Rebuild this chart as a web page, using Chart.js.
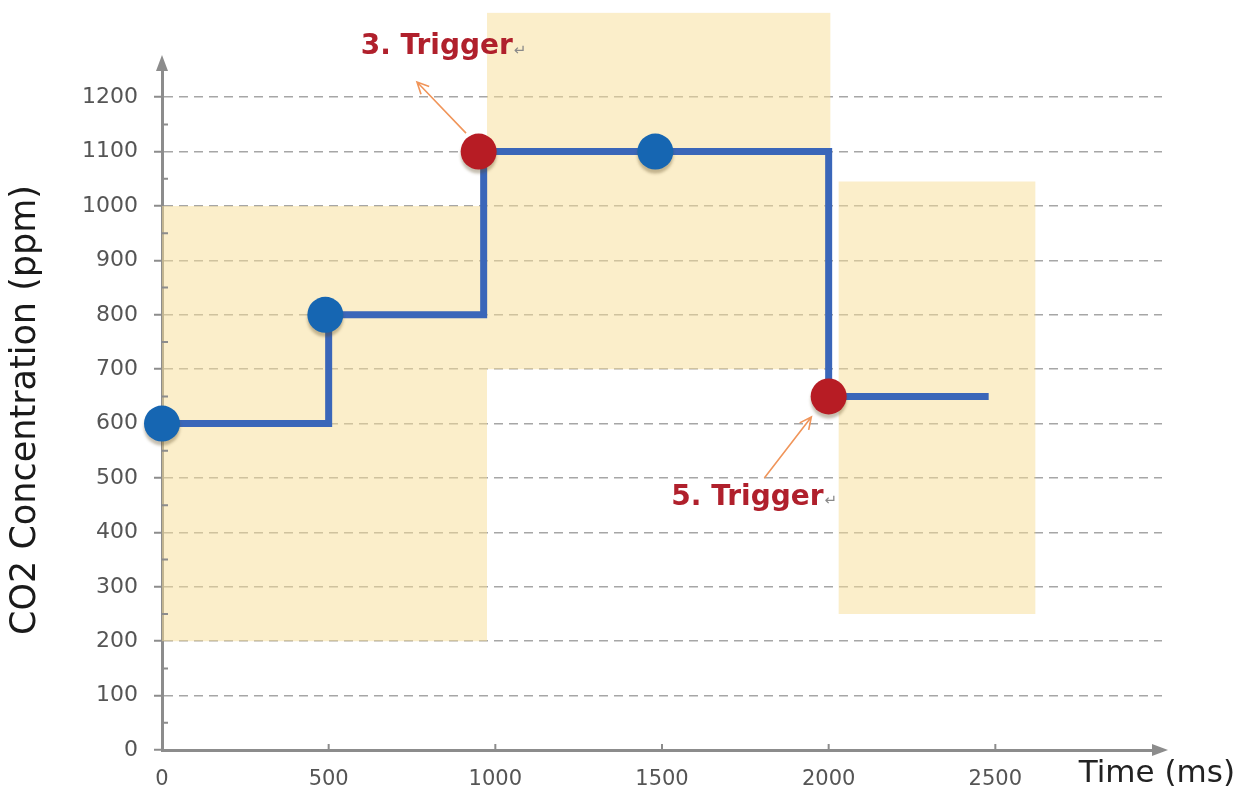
<!DOCTYPE html>
<html><head><meta charset="utf-8">
<script src="https://cdn.jsdelivr.net/npm/chart.js@4.4.1/dist/chart.umd.min.js"></script>
<style>html,body{margin:0;padding:0;background:#fff;overflow:hidden}#wrap{width:1236px;height:791px}</style>
</head><body><div id="wrap"><canvas id="c" width="1236" height="791"></canvas></div>
<script>
// ---- data (ms / ppm) ----
const stepTimes = [0, 500, 965, 2000, 2480];
const stepCO2   = [600, 800, 1100, 650, 650];
const blueTimes = [0, 490, 1480];
const blueCO2   = [600, 800, 1100];
const redTimes  = [950, 2000];
const redCO2    = [1100, 650];
const xTickValues = [0, 500, 1000, 1500, 2000, 2500];
const yTickValues = [0, 100, 200, 300, 400, 500, 600, 700, 800, 900, 1000, 1100, 1200];
const yMinorTicks = [50, 150, 250, 350, 450, 550, 650, 750, 850, 950, 1050, 1150];
// shaded zones
const zoneStart = [0, 975, 2030];
const zoneEnd   = [975, 2005, 2620];
const zoneLow   = [200, 700, 250];
const zoneHigh  = [1000, 1355, 1045];
// trigger annotations
const triggerText = ['3. Trigger', '5. Trigger'];
const triggerTime = [596, 1528];
const triggerCO2  = [1292, 464];
const arrowFromTime = [912, 1807];
const arrowFromCO2  = [1134, 500];
const arrowToTime   = [765, 1948];
const arrowToCO2    = [1228, 612];

const AXIS = '#8c8c8c';

const decor = {
  id: 'decor',
  beforeDatasetsDraw(chart) {
    const {ctx, scales: {x, y}} = chart;
    ctx.save();
    ctx.fillStyle = 'rgba(247,222,150,0.5)';
    for (let i = 0; i < zoneStart.length; i++) {
      const l = x.getPixelForValue(zoneStart[i]), r = x.getPixelForValue(zoneEnd[i]);
      const t = y.getPixelForValue(zoneHigh[i]), b = y.getPixelForValue(zoneLow[i]);
      ctx.fillRect(l, t, r - l, b - t);
    }
    ctx.restore();
  },
  beforeDatasetDraw(chart, args) {
    if (args.index < 2) {
      chart.ctx.save();
      chart.ctx.shadowColor = 'rgba(90,70,30,0.35)';
      chart.ctx.shadowOffsetY = 4;
      chart.ctx.shadowBlur = 3;
    }
  },
  afterDatasetDraw(chart, args) {
    if (args.index < 2) chart.ctx.restore();
  },
  afterDraw(chart) {
    const {ctx, chartArea: ca, scales: {x, y}} = chart;
    ctx.save();
    // arrowheads on axes
    ctx.fillStyle = AXIS;
    ctx.beginPath();
    ctx.moveTo(ca.left, ca.top - 15);
    ctx.lineTo(ca.left - 6, ca.top + 1);
    ctx.lineTo(ca.left + 6, ca.top + 1);
    ctx.closePath(); ctx.fill();
    ctx.beginPath();
    ctx.moveTo(ca.right + 6, ca.bottom);
    ctx.lineTo(ca.right - 10, ca.bottom - 6);
    ctx.lineTo(ca.right - 10, ca.bottom + 6);
    ctx.closePath(); ctx.fill();
    // minor ticks
    ctx.strokeStyle = AXIS; ctx.lineWidth = 2;
    ctx.beginPath();
    yMinorTicks.forEach(v => { const py = y.getPixelForValue(v); ctx.moveTo(ca.left, py); ctx.lineTo(ca.left + 6, py); });
    xTickValues.forEach(v => { if (v === 0) return; const px = x.getPixelForValue(v); ctx.moveTo(px, ca.bottom); ctx.lineTo(px, ca.bottom - 6); });
    ctx.stroke();
    // trigger arrows
    ctx.strokeStyle = '#F0955A'; ctx.lineWidth = 1.6;
    for (let i = 0; i < triggerText.length; i++) {
      const x1 = x.getPixelForValue(arrowFromTime[i]), y1 = y.getPixelForValue(arrowFromCO2[i]);
      const x2 = x.getPixelForValue(arrowToTime[i]), y2 = y.getPixelForValue(arrowToCO2[i]);
      const a = Math.atan2(y2 - y1, x2 - x1);
      ctx.beginPath();
      ctx.moveTo(x1, y1); ctx.lineTo(x2, y2);
      ctx.moveTo(x2 - 13 * Math.cos(a - 0.45), y2 - 13 * Math.sin(a - 0.45));
      ctx.lineTo(x2, y2);
      ctx.lineTo(x2 - 13 * Math.cos(a + 0.45), y2 - 13 * Math.sin(a + 0.45));
      ctx.stroke();
    }
    // trigger labels
    for (let i = 0; i < triggerText.length; i++) {
      const px = x.getPixelForValue(triggerTime[i]), py = y.getPixelForValue(triggerCO2[i]);
      ctx.font = 'bold 28px "DejaVu Sans"';
      ctx.fillStyle = '#B0202C';
      ctx.textAlign = 'left'; ctx.textBaseline = 'middle';
      ctx.fillText(triggerText[i], px, py);
      const w = ctx.measureText(triggerText[i]).width;
      ctx.font = '15px "DejaVu Sans"';
      ctx.fillStyle = '#8a8a8a';
      ctx.fillText('\u21B5', px + w + 1, py + 4);
    }
    // x axis title
    ctx.font = '31px "DejaVu Sans"';
    ctx.fillStyle = '#222';
    ctx.textAlign = 'right'; ctx.textBaseline = 'alphabetic';
    ctx.fillText('Time (ms)', chart.width - 1, 782);
    ctx.restore();
  }
};

new Chart(document.getElementById('c'), {
  type: 'line',
  data: {
    datasets: [
      { label: 'Measured', data: blueTimes.map((t, i) => ({x: t, y: blueCO2[i]})), showLine: false, clip: false,
        pointRadius: 18, pointHoverRadius: 18, pointBackgroundColor: '#1666B2', pointBorderWidth: 0, order: 1 },
      { label: 'Trigger', data: redTimes.map((t, i) => ({x: t, y: redCO2[i]})), showLine: false, clip: false,
        pointRadius: 18, pointHoverRadius: 18, pointBackgroundColor: '#B71C24', pointBorderWidth: 0, order: 1 },
      { label: 'CO2', data: stepTimes.map((t, i) => ({x: t, y: stepCO2[i]})), stepped: true, clip: false,
        borderColor: '#3A66B9', borderWidth: 7, pointRadius: 0, fill: false, order: 3,
        borderJoinStyle: 'miter', borderCapStyle: 'butt' }
    ]
  },
  options: {
    responsive: false, animation: false, devicePixelRatio: 1,
    layout: { padding: { top: 70, right: 74, bottom: 0, left: 0 } },
    plugins: { legend: { display: false }, tooltip: { enabled: false } },
    scales: {
      x: {
        type: 'linear', min: 0, max: 3000,
        afterBuildTicks: s => { s.ticks = xTickValues.map(v => ({value: v})); },
        afterFit: s => { s.height = 41; },
        grid: { drawOnChartArea: false, drawTicks: false },
        border: { color: AXIS, width: 3 },
        ticks: { padding: 17, font: { family: 'DejaVu Sans', size: 21 }, color: '#555',
                 callback: v => String(v) }
      },
      y: {
        type: 'linear', min: 0, max: 1250,
        afterBuildTicks: s => { s.ticks = yTickValues.map(v => ({value: v})); },
        afterFit: s => { s.width = 162; },
        grid: {
          color: c => (c.tick && c.tick.value === 0) ? 'rgba(0,0,0,0)' : '#a6a6a6',
          lineWidth: 1.5, tickLength: 8, tickColor: AXIS, tickWidth: 2, tickBorderDash: []
        },
        border: { color: AXIS, width: 3, dash: [9, 6] },
        ticks: { padding: 16, font: { family: 'DejaVu Sans', size: 22 }, color: '#555',
                 callback: v => String(v) },
        title: { display: true, text: 'CO2 Concentration (ppm)', color: '#1a1a1a',
                 font: { family: 'DejaVu Sans', size: 35 }, padding: { top: 5, bottom: 0 } }
      }
    }
  },
  plugins: [decor]
});
</script>
</body></html>
